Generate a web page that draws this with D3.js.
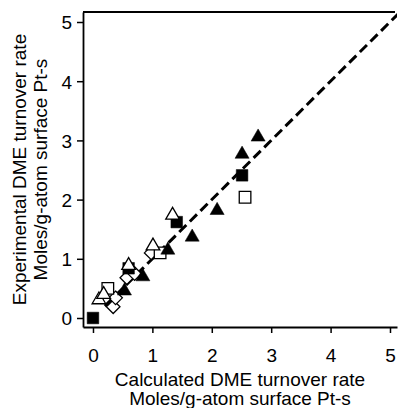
<!DOCTYPE html>
<html>
<head>
<meta charset="utf-8">
<script src="https://cdn.jsdelivr.net/npm/d3@7"></script>
<style>
  body { margin: 0; background: #fff; }
  text { font-family: "Liberation Sans", Arial, sans-serif; }
</style>
</head>
<body>
<div id="chart"></div>
<script>
var w = 399;
var h = 408;

// data: [calculated, experimental]
var filledSquares = [[0, 0], [0.6, 0.84], [1.41, 1.62], [2.51, 2.41]];
var openSquares = [[0.25, 0.5], [1.13, 1.1], [2.56, 2.04]];
var filledTriangles = [[0.53, 0.48], [0.84, 0.72], [1.26, 1.17], [1.67, 1.39], [2.09, 1.84], [2.51, 2.79], [2.78, 3.08]];
var openTriangles = [[0.1, 0.33], [0.18, 0.42], [0.6, 0.91], [1.01, 1.24], [1.34, 1.76]];
var openDiamonds = [[0.34, 0.19], [0.38, 0.34], [0.57, 0.68], [0.7, 0.75], [0.98, 1.1]];
var parityLine = [[0.2, 0.2], [5.15, 5.15]];
var tickValues = [0, 1, 2, 3, 4, 5];
var xTitle = ["Calculated DME turnover rate", "Moles/g-atom surface Pt-s"];
var yTitle = ["Experimental DME turnover rate", "Moles/g-atom surface Pt-s"];

var pLeft = 83, pRight = 397, pTop = 12, pBottom = 327;

var xScale = d3.scaleLinear().domain([-0.168, 5.118]).range([pLeft, pRight]);
var yScale = d3.scaleLinear().domain([-0.152, 5.169]).range([pBottom, pTop]);

var svg = d3.select("#chart").append("svg").attr("width", w).attr("height", h);

svg.append("clipPath").attr("id", "clip")
  .append("rect").attr("x", pLeft).attr("y", pTop)
  .attr("width", pRight - pLeft).attr("height", pBottom - pTop);

// dashed parity line
svg.append("path")
  .datum(parityLine)
  .attr("clip-path", "url(#clip)")
  .attr("d", d3.line().x(function (d) { return xScale(d[0]); }).y(function (d) { return yScale(d[1]); }))
  .attr("fill", "none")
  .attr("stroke", "#000")
  .attr("stroke-width", 3)
  .attr("stroke-dasharray", "10,5");

function sq(s) {
  return "M" + (-s) + "," + (-s) + "H" + s + "V" + s + "H" + (-s) + "Z";
}
function tri(s) {
  return "M0," + (-s * 1.05) + "L" + (s * 1.1) + "," + (s * 0.85) + "L" + (-s * 1.1) + "," + (s * 0.85) + "Z";
}
function dia(s) {
  return "M0," + (-s) + "L" + s + ",0L0," + s + "L" + (-s) + ",0Z";
}

function drawMarks(data, path, filled) {
  svg.append("g")
    .selectAll("path")
    .data(data)
    .enter()
    .append("path")
    .attr("transform", function (d) {
      return "translate(" + xScale(d[0]) + "," + yScale(d[1]) + ")";
    })
    .attr("d", path)
    .attr("fill", filled ? "#000" : "#fff")
    .attr("stroke", "#000")
    .attr("stroke-width", filled ? 0.5 : 1.3);
}

drawMarks(openDiamonds, dia(6.8), false);
drawMarks(openSquares, sq(5.8), false);
drawMarks(filledTriangles, tri(6.4), true);
drawMarks(filledSquares, sq(5.8), true);
drawMarks(openTriangles, tri(6.2), false);

// axes
var xAxis = d3.axisBottom(xScale).tickValues(tickValues).tickSize(6).tickSizeOuter(0).tickFormat(d3.format("d"));
var yAxis = d3.axisLeft(yScale).tickValues(tickValues).tickSize(6).tickSizeOuter(0).tickFormat(d3.format("d"));

var gx = svg.append("g").attr("transform", "translate(0," + pBottom + ")").call(xAxis);
var gy = svg.append("g").attr("transform", "translate(" + pLeft + ",0)").call(yAxis);

[gx, gy].forEach(function (g) {
  g.select(".domain").attr("stroke-width", 1.8);
  g.selectAll(".tick line").attr("stroke-width", 1.5);
  g.selectAll(".tick text").attr("font-size", "19px").attr("fill", "#000")
    .attr("font-family", "Liberation Sans, Arial, sans-serif");
});
gx.selectAll(".tick text").attr("dy", "0").attr("y", 35);
gy.selectAll(".tick text").attr("x", -11).attr("dy", "0.36em");

// top frame line
svg.append("line")
  .attr("x1", pLeft).attr("x2", pRight - 2)
  .attr("y1", pTop).attr("y2", pTop)
  .attr("stroke", "#000").attr("stroke-width", 1.8);

// titles
var cx = (pLeft + pRight) / 2;
svg.selectAll("text.xtitle")
  .data(xTitle)
  .enter()
  .append("text")
  .attr("class", "xtitle")
  .attr("x", cx)
  .attr("y", function (d, i) { return 386 + i * 19; })
  .attr("text-anchor", "middle")
  .attr("font-size", "19px")
  .text(function (d) { return d; });

var cy = (pTop + pBottom) / 2;
svg.selectAll("text.ytitle")
  .data(yTitle)
  .enter()
  .append("text")
  .attr("class", "ytitle")
  .attr("transform", function (d, i) {
    return "translate(" + (26 + i * 21) + "," + cy + ") rotate(-90)";
  })
  .attr("text-anchor", "middle")
  .attr("font-size", "19px")
  .text(function (d) { return d; });
</script>
</body>
</html>
